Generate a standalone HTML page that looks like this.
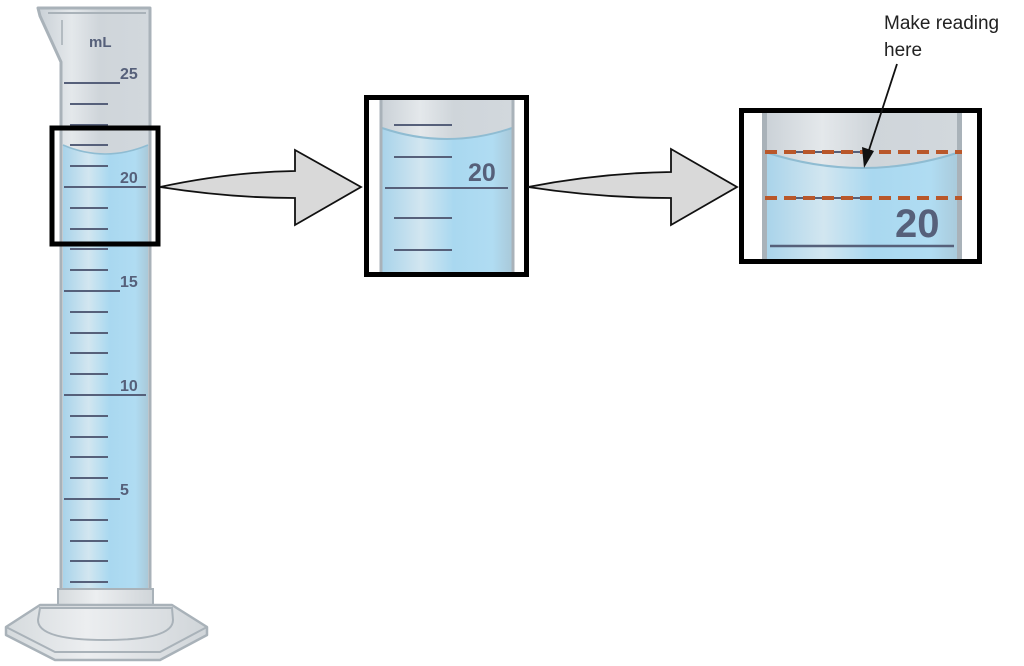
<!DOCTYPE html>
<html><head><meta charset="utf-8"><style>
html,body{margin:0;padding:0;background:#fff;}
svg{display:block;}
text{font-family:"Liberation Sans",sans-serif;}
</style></head><body>
<svg width="1024" height="666" viewBox="0 0 1024 666" xmlns="http://www.w3.org/2000/svg">
<defs>
<linearGradient id="glass" x1="0" x2="1" y1="0" y2="0">
<stop offset="0" stop-color="#c9d0d6"/><stop offset="0.3" stop-color="#e4e8eb"/><stop offset="0.55" stop-color="#cfd5da"/><stop offset="1" stop-color="#d2d8dd"/>
</linearGradient>
<linearGradient id="liq" x1="0" x2="1" y1="0" y2="0">
<stop offset="0" stop-color="#a8d3ea"/><stop offset="0.3" stop-color="#d2e6f0"/><stop offset="0.55" stop-color="#a9d8f0"/><stop offset="0.85" stop-color="#b0dcf2"/><stop offset="1" stop-color="#a9c9d9"/>
</linearGradient>
<linearGradient id="base" x1="0" x2="1"><stop offset="0" stop-color="#d5dadd"/><stop offset="0.4" stop-color="#eceef0"/><stop offset="1" stop-color="#d0d5d9"/></linearGradient>
</defs>

<!-- Cylinder -->
<path d="M38,8 L150,8 L150,18 L150,590 L61,590 L61,62 L40,16 Z" fill="url(#glass)" stroke="#a9b2b9" stroke-width="3" stroke-linejoin="round"/>
<line x1="48" y1="13" x2="146" y2="13" stroke="#a9b2b9" stroke-width="2"/>
<line x1="62" y1="20" x2="62" y2="45" stroke="#b3bbc1" stroke-width="2"/>
<path d="M63,145 Q105,163 148,145 L148,589 L63,589 Z" fill="url(#liq)"/>
<path d="M63,145 Q105,163 148,145" fill="none" stroke="#8fbcd2" stroke-width="1.5"/>
<text x="89" y="47" font-size="15" font-weight="bold" fill="#56607a">mL</text>
<g stroke="#56607a" stroke-width="2">
<line x1="64" y1="83" x2="120" y2="83"/>
<line x1="64" y1="187" x2="146" y2="187"/>
<line x1="64" y1="291" x2="120" y2="291"/>
<line x1="64" y1="395" x2="146" y2="395"/>
<line x1="64" y1="499" x2="120" y2="499"/>
<g>
<line x1="70" y1="104" x2="108" y2="104"/><line x1="70" y1="125" x2="108" y2="125"/><line x1="70" y1="145" x2="108" y2="145"/><line x1="70" y1="166" x2="108" y2="166"/>
<line x1="70" y1="208" x2="108" y2="208"/><line x1="70" y1="229" x2="108" y2="229"/><line x1="70" y1="249" x2="108" y2="249"/><line x1="70" y1="270" x2="108" y2="270"/>
<line x1="70" y1="312" x2="108" y2="312"/><line x1="70" y1="333" x2="108" y2="333"/><line x1="70" y1="353" x2="108" y2="353"/><line x1="70" y1="374" x2="108" y2="374"/>
<line x1="70" y1="416" x2="108" y2="416"/><line x1="70" y1="437" x2="108" y2="437"/><line x1="70" y1="457" x2="108" y2="457"/><line x1="70" y1="478" x2="108" y2="478"/>
<line x1="70" y1="520" x2="108" y2="520"/><line x1="70" y1="541" x2="108" y2="541"/><line x1="70" y1="561" x2="108" y2="561"/><line x1="70" y1="582" x2="108" y2="582"/>
</g></g>
<g font-size="16" font-weight="bold" fill="#56607a">
<text x="120" y="79">25</text><text x="120" y="183">20</text><text x="120" y="287">15</text><text x="120" y="391">10</text><text x="120" y="495">5</text>
</g>
<!-- base -->
<rect x="58" y="589" width="95" height="20" fill="url(#base)" stroke="#a9b2b9" stroke-width="2"/>
<path d="M6,627 L40,605 L172,605 L207,627 L207,635 L160,660 L55,660 L6,635 Z" fill="url(#base)" stroke="#a9b2b9" stroke-width="2.5" stroke-linejoin="round"/>
<path d="M6,627 L55,652 L160,652 L207,627" fill="none" stroke="#a9b2b9" stroke-width="2"/>
<path d="M38,620 Q38,640 105,640 Q173,640 173,620 L172,608 L40,608 Z" fill="none" stroke="#a9b2b9" stroke-width="2"/>

<!-- Box 1 -->
<rect x="52" y="128" width="106" height="116" fill="none" stroke="#000" stroke-width="5"/>

<!-- Arrow 1 -->
<path d="M160,187 Q230,172 295,171 L295,150 L361,187 L295,225 L295,198 Q230,198 160,187 Z" fill="#d9d9d9" stroke="#111" stroke-width="1.8" stroke-linejoin="miter"/>

<!-- Box 2 -->
<rect x="380" y="99" width="134" height="175" fill="url(#glass)"/>
<path d="M382,128 Q447,150 512,128 L512,274 L382,274 Z" fill="url(#liq)"/>
<path d="M382,128 Q447,150 512,128" fill="none" stroke="#8fbcd2" stroke-width="2"/>
<line x1="381" y1="99" x2="381" y2="274" stroke="#a9b2b9" stroke-width="3"/>
<line x1="513" y1="99" x2="513" y2="274" stroke="#a9b2b9" stroke-width="3"/>
<g stroke="#56607a" stroke-width="2">
<line x1="394" y1="125" x2="452" y2="125"/><line x1="394" y1="157" x2="452" y2="157"/>
<line x1="385" y1="188" x2="508" y2="188"/>
<line x1="394" y1="218" x2="452" y2="218"/><line x1="394" y1="250" x2="452" y2="250"/>
</g>
<text x="468" y="181" font-size="25" font-weight="bold" fill="#56607a">20</text>
<rect x="366.5" y="97.5" width="160" height="177" fill="none" stroke="#000" stroke-width="5"/>

<!-- Arrow 2 -->
<path d="M528,187 Q600,173 671,172 L671,149 L737,187 L671,225 L671,198 Q600,198 528,187 Z" fill="#d9d9d9" stroke="#111" stroke-width="1.8"/>

<!-- Box 3 -->
<rect x="762" y="111" width="200" height="150" fill="url(#glass)"/>
<path d="M765,152 Q862,184 960,152 L960,261 L765,261 Z" fill="url(#liq)"/>
<path d="M765,152 Q862,184 960,152" fill="none" stroke="#8fbcd2" stroke-width="2"/>
<rect x="762" y="111" width="5" height="150" fill="#a9b2b9"/>
<rect x="957" y="111" width="5" height="150" fill="#a9b2b9"/>
<line x1="793" y1="152" x2="864" y2="152" stroke="#56607a" stroke-width="2"/>
<line x1="793" y1="198" x2="864" y2="198" stroke="#56607a" stroke-width="2"/>
<g stroke="#b9572a" stroke-width="4" stroke-dasharray="12,7">
<line x1="765" y1="152" x2="962" y2="152"/>
<line x1="765" y1="198" x2="962" y2="198"/>
</g>
<line x1="770" y1="246" x2="954" y2="246" stroke="#56607a" stroke-width="2.5"/>
<text x="895" y="237" font-size="40" font-weight="bold" fill="#56607a">20</text>
<rect x="741.5" y="110.5" width="238" height="151" fill="none" stroke="#000" stroke-width="5"/>

<!-- label -->
<text x="884" y="29" font-size="19" fill="#222">Make reading</text>
<text x="884" y="56" font-size="19" fill="#222">here</text>
<line x1="897" y1="64" x2="869" y2="150" stroke="#111" stroke-width="1.8"/>
<path d="M864,168 L862,147 L874,151 Z" fill="#111"/>
</svg>
</body></html>
